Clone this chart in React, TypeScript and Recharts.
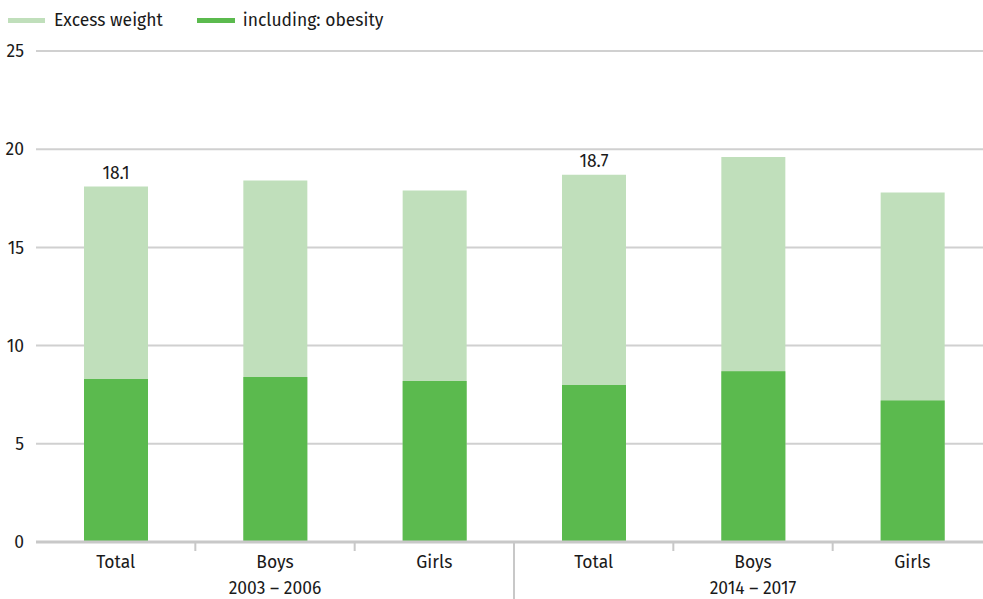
import React from "react";
import { Bar, BarChart, CartesianGrid, LabelList, XAxis, YAxis } from "recharts";

// Share of children with excess weight / obesity, in %
const categories = ["Total", "Boys", "Girls", "Total", "Boys", "Girls"];
const periods = ["2003 – 2006", "2003 – 2006", "2003 – 2006", "2014 – 2017", "2014 – 2017", "2014 – 2017"];
const excessWeight = [18.1, 18.4, 17.9, 18.7, 19.6, 17.8];
const obesity = [8.3, 8.4, 8.2, 8.0, 8.7, 7.2];
const yTicks = [0, 5, 10, 15, 20, 25];

const LIGHT = "#c0dfbb";
const DARK = "#5bba4e";
const TEXT = "#1a1a1a";
const FONT = "'Fira Sans', 'Noto Sans', sans-serif";
const FS = 17.5;

const WIDTH = 992;
const HEIGHT = 599;
const LEFT = 36;
const BAND = (WIDTH - LEFT) / categories.length;

const data = categories.map((c, i) => ({
  key: `${periods[i]}-${c}`,
  category: c,
  period: periods[i],
  excess: excessWeight[i],
  obesity: obesity[i],
}));

// category name, period name under the middle bar, and separators between bands
const CategoryTick = (props: any) => {
  const { x, y, index } = props;
  const d = data[index];
  const right = x + BAND / 2;
  const isGroupEnd = index === 2;
  const isLast = index === data.length - 1;
  return (
    <g>
      <text x={x} y={y + 13} textAnchor="middle" dominantBaseline="middle" fontSize={FS} fill={TEXT} fontFamily={FONT}>
        {d.category}
      </text>
      {index % 3 === 1 && (
        <text x={x} y={y + 39} textAnchor="middle" dominantBaseline="middle" fontSize={FS} fill={TEXT} fontFamily={FONT}>
          {d.period}
        </text>
      )}
      {!isLast && (
        <line x1={right} x2={right} y1={y - 8} y2={isGroupEnd ? y + 52 : y + 1} stroke="#c8c8c8" strokeWidth={2} />
      )}
    </g>
  );
};

const TotalLabel = (props: any) => {
  const { x, y, width, value, index } = props;
  if (data[index].category !== "Total") return null;
  return (
    <text x={x + width / 2} y={y - 12} textAnchor="middle" dominantBaseline="middle" fontSize={FS} fill={TEXT} fontFamily={FONT}>
      {value.toFixed(1)}
    </text>
  );
};

const LegendBox = () => (
  <div
    style={{
      position: "absolute",
      left: 0,
      top: 9,
      height: 22,
      display: "flex",
      alignItems: "center",
      fontFamily: FONT,
      fontSize: FS,
      color: TEXT,
      zIndex: 1,
    }}
  >
    <span style={{ display: "inline-block", width: 37, height: 5, background: LIGHT, marginLeft: 8, marginRight: 9 }} />
    <span>Excess weight</span>
    <span style={{ display: "inline-block", width: 38, height: 5, background: DARK, marginLeft: 34, marginRight: 8 }} />
    <span>including: obesity</span>
  </div>
);

export default function App() {
  return (
    <div style={{ position: "absolute", left: 0, top: 0, width: 983, height: HEIGHT, overflow: "hidden", background: "#fff" }}>
      <LegendBox />
      <BarChart
        width={WIDTH}
        height={HEIGHT}
        data={data}
        margin={{ top: 51, right: 0, left: 0, bottom: 0 }}
        barSize={64}
        barGap={-64}
      >
        <CartesianGrid vertical={false} stroke="#d0d0d0" strokeWidth={2} />
        <XAxis
          dataKey="key"
          interval={0}
          height={57}
          tickLine={false}
          axisLine={{ stroke: "#c8c8c8", strokeWidth: 3 }}
          tick={<CategoryTick />}
        />
        <YAxis
          width={LEFT}
          domain={[0, 25]}
          ticks={yTicks}
          tickLine={false}
          axisLine={false}
          tick={{ fontSize: FS, fill: TEXT, fontFamily: FONT }}
          tickMargin={6}
        />
        <Bar dataKey="excess" fill={LIGHT} isAnimationActive={false}>
          <LabelList dataKey="excess" content={<TotalLabel />} />
        </Bar>
        <Bar dataKey="obesity" fill={DARK} isAnimationActive={false} />
      </BarChart>
    </div>
  );
}
